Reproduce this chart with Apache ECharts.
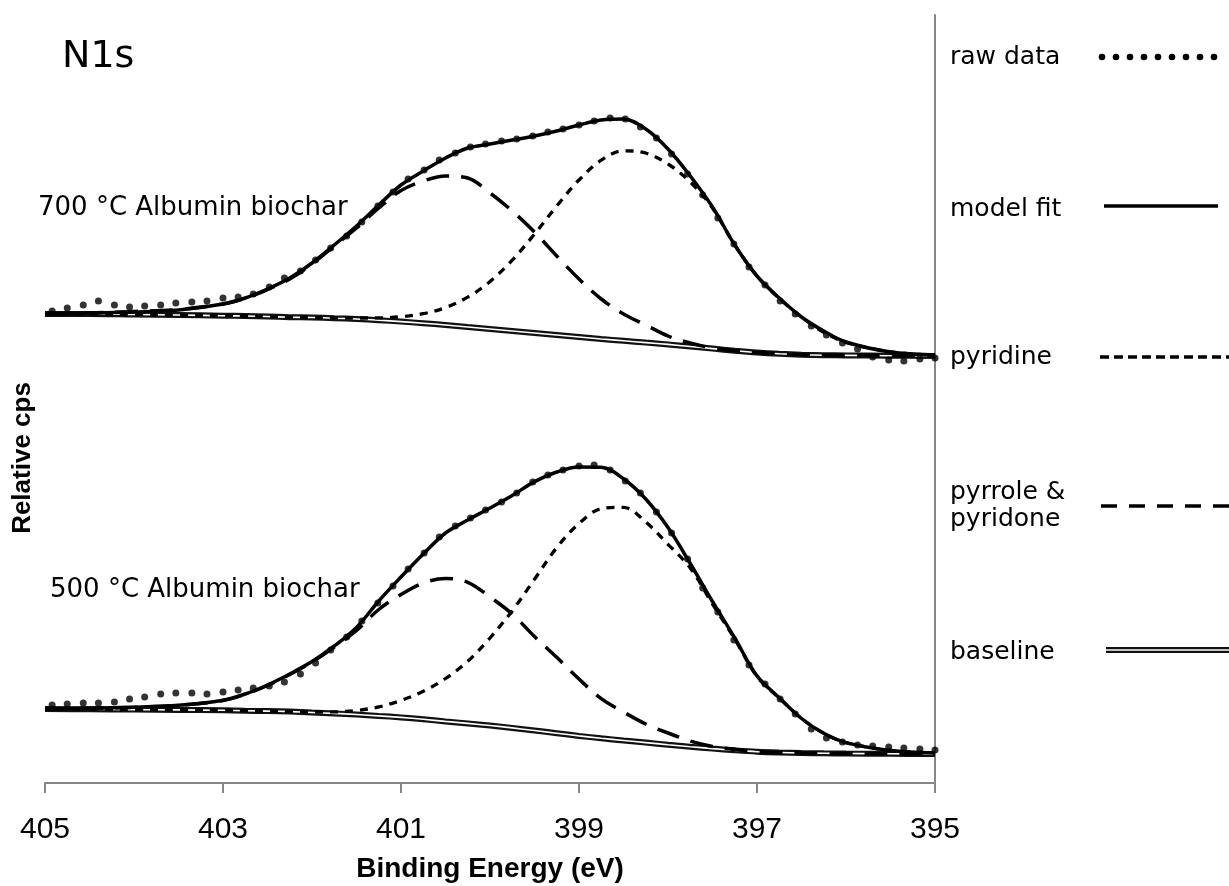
<!DOCTYPE html>
<html>
<head>
<meta charset="utf-8">
<script src="https://cdn.jsdelivr.net/npm/echarts@6/dist/echarts.min.js"></script>
<style>html,body{margin:0;padding:0;background:#fff;}#chart{width:1229px;height:886px;}</style>
</head>
<body>
<div id="chart"></div>
<script>
// Binding energy ticks
const xTicks = [405, 403, 401, 399, 397, 395];
// Smooth-curve energy grid (eV)
const energyGrid = [405,404.5,404,403.5,403,402.75,402.5,402.25,402,401.75,401.5,401.25,401,400.75,400.5,400.25,400,399.75,399.5,399.25,399,398.75,398.5,398.25,398,397.75,397.5,397.25,397,396.75,396.5,396.25,396,395.5,395];
// 700 °C spectrum (relative cps, offset stack)
const fit700 = [469,470,471,473,479,485,494,505,520,538,557,578,598,612,625,635,639,643,647,652,658,663,664,654,634,607,576,538,507,485,466,452,441,431,428];
const pyridine700 = [469,469,468.5,468,467.3,467,466.5,465.8,465.5,465.1,465,465.1,466.3,469.3,475.4,485.8,501.5,522.9,548.9,577,603,622.8,632.2,630,619,601,575,538,507,484.5,466,450.7,440.7,431.2,427.8];
const pyrrole700 = [469,470,471.5,473.5,479,484.7,493.5,504,519,537,555,575,592.5,602,607,605,590,572,551,527,504,484,469,458,447,440,435,432.5,430.5,429.2,428.3,427.8,427.6,427.3,427];
const baseline700 = [469,469,468.5,468,467.3,467,466.5,465.8,465.5,464.8,464,462.8,461.4,459.8,458,456,454,452,450,448,446,444,442.2,440.4,438.6,436.5,434.4,432.3,430.5,429.2,428.3,427.8,427.6,427.3,427];
// 500 °C spectrum
const fit500 = [74,74.8,75.7,77.7,82.8,89,98,109,121.4,137,155.6,182,206,229,250,263,275,287.5,301.4,311,316,315.7,304.3,284,255.4,219.5,181.5,145,107.1,85.2,64.5,49.7,40.4,32.5,30];
const pyridine500 = [74,73.7,73.4,73.1,72.7,72.3,71.9,71.5,71,71.1,72.5,76.1,82.6,91.7,104.5,121.7,145,172.3,203.7,235.4,259.5,274.3,275.7,261,238.7,215,179,144,106.5,85,64.4,49.6,40.3,32.5,30];
const pyrrole500 = [74,74.8,75.7,77.7,82.5,88.7,97.5,108.5,121,136,152.5,173.5,188.5,200,204.5,200.7,186,169,146.5,125.7,104,84.3,71,59,50,42,36.5,33.5,31.5,30.5,30,29.7,29.5,29.2,29];
const baseline500 = [74,73.7,73.4,73.1,72.7,72.3,71.9,71.4,70.5,69.6,68.5,67.1,65.6,63.7,61.6,59.6,57.5,55.1,52.5,49.8,47.1,44.7,42.5,40.4,38.3,36.3,34.4,32.7,31.3,30.5,30,29.7,29.5,29.2,29];
// Raw data energies and counts
const rawEnergy = [404.92,404.75,404.57,404.40,404.22,404.05,403.88,403.70,403.53,403.35,403.18,403.00,402.83,402.66,402.48,402.31,402.13,401.96,401.79,401.61,401.44,401.26,401.09,400.92,400.74,400.57,400.39,400.22,400.05,399.87,399.70,399.52,399.35,399.18,399.00,398.83,398.65,398.48,398.31,398.13,397.96,397.78,397.61,397.44,397.26,397.09,396.91,396.74,396.57,396.39,396.22,396.04,395.87,395.70,395.52,395.35,395.17,395.00];
const raw700 = [472,475,478,482,478,476,477,478,480,481,482,485,486,489,496,505,512,523,535,547,561,577,591,604,613,623,630,636,639,642,644,647,651,654,658,662,665,664,656,645,629,609,588,565,539,516,498,482,469,457,448,440,434,426,423,422,424,425];
const raw500 = [78,79,80,80,81,84,86,89,90,90,89,91,93,95,97,101,109,120,133,146,162,180,197,214,230,246,257,265,273,281,290,301,308,313,317,318,313,302,290,271,250,224,195,171,143,118,99,84,69,54,45,41,38,37,36,35,34,33];
const legendNames = ['raw data', 'model fit', 'pyridine', 'pyrrole &\npyridone', 'baseline'];
const sampleNames = ['700 °C Albumin biochar', '500 °C Albumin biochar'];

function pairs(xs, ys) { return xs.map((x, i) => [x, ys[i]]); }

const chart = echarts.init(document.getElementById('chart'), null, {renderer: 'canvas'});
const black = '#000';

function lineSeries(name, ys, dash, width, color, z) {
  return {
    name: name, type: 'line', data: pairs(energyGrid, ys), smooth: 0.35,
    showSymbol: false, symbol: 'none', silent: true, z: z,
    lineStyle: {color: color, width: width, type: dash, cap: 'butt'}
  };
}

const series = [];
[[baseline700, pyridine700, pyrrole700, fit700, raw700], [baseline500, pyridine500, pyrrole500, fit500, raw500]].forEach(function (s) {
  series.push(lineSeries('baseline', s[0], 'solid', 6, '#111', 2));
  series.push(lineSeries('baseline-inner', s[0], 'solid', 1.6, '#ffffff', 3));
  series.push(lineSeries('pyridine', s[1], [8, 7], 3.3, black, 4));
  series.push(lineSeries('pyrrole & pyridone', s[2], [23, 12], 3.5, black, 4));
  series.push(lineSeries('model fit', s[3], 'solid', 3.5, black, 5));
  series.push({
    name: 'raw data', type: 'scatter', data: pairs(rawEnergy, s[4]), symbol: 'circle',
    symbolSize: 7, itemStyle: {color: black}, silent: true, z: 6
  });
});

// Legend drawn with graphic elements
const LX = 950;
const legendY = [57, 209, 357, 506, 652];
const graphic = [];
graphic.push({type: 'text', x: 62, y: 57, style: {text: 'N1s', font: '38px "DejaVu Sans"', fill: black, verticalAlign: 'middle'}});
graphic.push({type: 'text', x: 38, y: 208, style: {text: sampleNames[0], font: '26px "DejaVu Sans"', fill: black, verticalAlign: 'middle'}});
graphic.push({type: 'text', x: 50, y: 590, style: {text: sampleNames[1], font: '26px "DejaVu Sans"', fill: black, verticalAlign: 'middle'}});
graphic.push({type: 'text', x: 23, y: 458, rotation: Math.PI / 2, style: {text: 'Relative cps', font: 'bold 26px "Liberation Sans"', fill: black, align: 'center', verticalAlign: 'middle'}});
legendNames.forEach(function (n, i) {
  graphic.push({type: 'text', x: LX, y: legendY[i], style: {text: n, font: '25px "DejaVu Sans"', fill: black, verticalAlign: 'middle', lineHeight: 27}});
});
for (let j = 0; j < 9; j++) {
  graphic.push({type: 'circle', shape: {cx: 1102 + j * 14, cy: legendY[0], r: 3.3}, style: {fill: black}});
}
graphic.push({type: 'line', shape: {x1: 1104, y1: legendY[1] - 3, x2: 1218, y2: legendY[1] - 3}, style: {stroke: black, lineWidth: 3.5}});
graphic.push({type: 'line', shape: {x1: 1100, y1: legendY[2], x2: 1229, y2: legendY[2]}, style: {stroke: black, lineWidth: 3.3, lineDash: [9, 5]}});
graphic.push({type: 'line', shape: {x1: 1101, y1: legendY[3], x2: 1229, y2: legendY[3]}, style: {stroke: black, lineWidth: 3.5, lineDash: [16, 12]}});
graphic.push({type: 'line', shape: {x1: 1106, y1: legendY[4] - 2, x2: 1229, y2: legendY[4] - 2}, style: {stroke: '#111', lineWidth: 6}});
graphic.push({type: 'line', shape: {x1: 1106, y1: legendY[4] - 2, x2: 1229, y2: legendY[4] - 2}, style: {stroke: '#fff', lineWidth: 1.6}});

chart.setOption({
  backgroundColor: '#fff',
  animation: false,
  grid: {left: 45, right: 294, top: 15, bottom: 103, containLabel: false, outerBoundsMode: 'none'},
  xAxis: {
    type: 'value', min: 395, max: 405, interval: 2, inverse: true,
    name: 'Binding Energy (eV)', nameLocation: 'middle', nameGap: 72,
    nameTextStyle: {fontFamily: 'Liberation Sans', fontWeight: 'bold', fontSize: 28, color: black},
    axisLine: {show: true, onZero: false, lineStyle: {color: '#868686', width: 2}},
    axisTick: {show: true, length: 10, inside: false, lineStyle: {color: '#868686', width: 2}},
    axisLabel: {show: true, margin: 32, fontFamily: 'Liberation Sans', fontSize: 30, color: black,
      formatter: function (v) { return xTicks.indexOf(v) >= 0 ? String(v) : ''; }},
    splitLine: {show: false}
  },
  yAxis: {
    type: 'value', min: 0, max: 768, position: 'right',
    axisLine: {show: true, lineStyle: {color: '#868686', width: 2}},
    axisTick: {show: false}, axisLabel: {show: false}, splitLine: {show: false}
  },
  graphic: graphic,
  series: series
});
</script>
</body>
</html>
